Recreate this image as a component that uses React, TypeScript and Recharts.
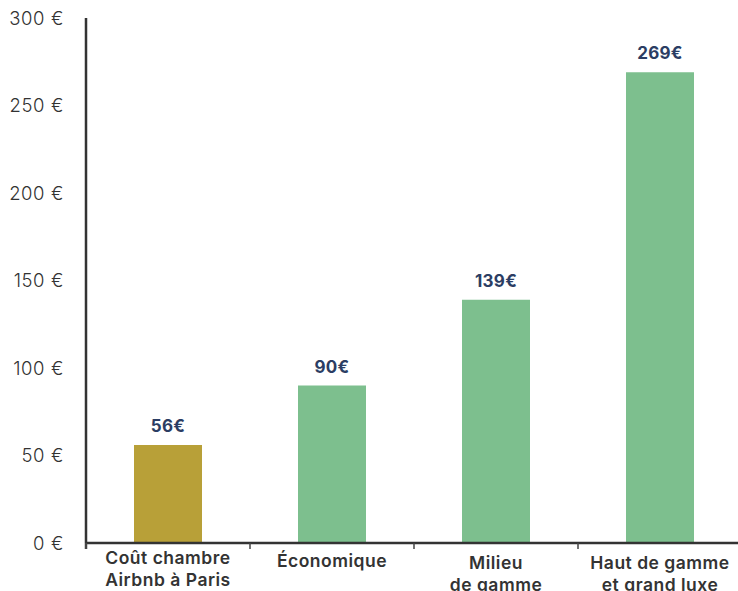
import React from 'react';
import { BarChart, Bar, XAxis, YAxis, Cell, LabelList } from 'recharts';

const categoryLines: string[][] = [
  ['Coût chambre', 'Airbnb à Paris'],
  ['Économique'],
  ['Milieu', 'de gamme'],
  ['Haut de gamme', 'et grand luxe'],
];
const prices: number[] = [56, 90, 139, 269];
const barColors: string[] = ['#b8a038', '#7dbf8e', '#7dbf8e', '#7dbf8e'];
const yTicks: number[] = [0, 50, 100, 150, 200, 250, 300];
const minorTicks: number[] = [0, 100, 140, 180, 220, 260, 300];

const data = categoryLines.map((lines, i) => ({
  name: lines.join(' '),
  value: prices[i],
}));

const FONT = 'Inter, "Noto Sans", sans-serif';
const CHART_W = 742;
const CHART_H = 591;
const LEFT = 86;
const BAND = (CHART_W - LEFT) / categoryLines.length;
const LABEL_BASE = [21, 24, 26, 26];

const CategoryTick = (props: any) => {
  const { x, y, index } = props;
  const lines = categoryLines[index] || [];
  const base = LABEL_BASE[index] ?? 24;
  const bx = x - BAND / 2;
  return (
    <g>
      <line x1={bx} y1={y} x2={bx} y2={y + 6} stroke="#444" strokeWidth={index === 0 ? 2.5 : 1.5} />
      {lines.map((l, k) => (
        <text
          key={k}
          x={x}
          y={y + base + k * 22}
          textAnchor="middle"
          fill="#333"
          fontFamily={FONT}
          fontSize={17.5}
          fontWeight={600}
          letterSpacing={0.5}
        >
          {l}
        </text>
      ))}
    </g>
  );
};

export default function App() {
  return (
    <div style={{ position: 'absolute', left: 0, top: 0, width: 738, height: 591, overflow: 'hidden', background: '#fff' }}>
      <BarChart width={CHART_W} height={CHART_H} data={data} margin={{ top: 18, right: 0, bottom: 0, left: 0 }} barSize={68}>
        <XAxis
          dataKey="name"
          height={48}
          axisLine={{ stroke: '#333', strokeWidth: 2.5 }}
          tickLine={false}
          tickSize={0}
          tickMargin={0}
          interval={0}
          tick={<CategoryTick />}
        />
        <YAxis
          yAxisId="minor"
          width={0}
          domain={[0, 300]}
          ticks={minorTicks}
          tick={false}
          tickSize={8}
          axisLine={false}
          tickLine={{ stroke: '#444', strokeWidth: 1.5 }}
        />
        <YAxis
          width={LEFT}
          domain={[0, 300]}
          ticks={yTicks}
          interval={0}
          tickFormatter={(v: number) => `${v} €`}
          tick={{ fill: '#333', fontFamily: FONT, fontSize: 18.5, fontWeight: 300, letterSpacing: 0.6 }}
          tickLine={false}
          tickSize={8}
          tickMargin={14}
          axisLine={{ stroke: '#333', strokeWidth: 2.5 }}
        />
        <Bar dataKey="value" isAnimationActive={false}>
          {data.map((d, i) => (
            <Cell key={d.name} fill={barColors[i]} />
          ))}
          <LabelList
            dataKey="value"
            position="top"
            offset={13}
            formatter={(v: any) => `${v}€`}
            fill="#2b3d63"
            fontFamily={FONT}
            fontSize={17}
            fontWeight={700}
            letterSpacing={0.3}
          />
        </Bar>
      </BarChart>
    </div>
  );
}
